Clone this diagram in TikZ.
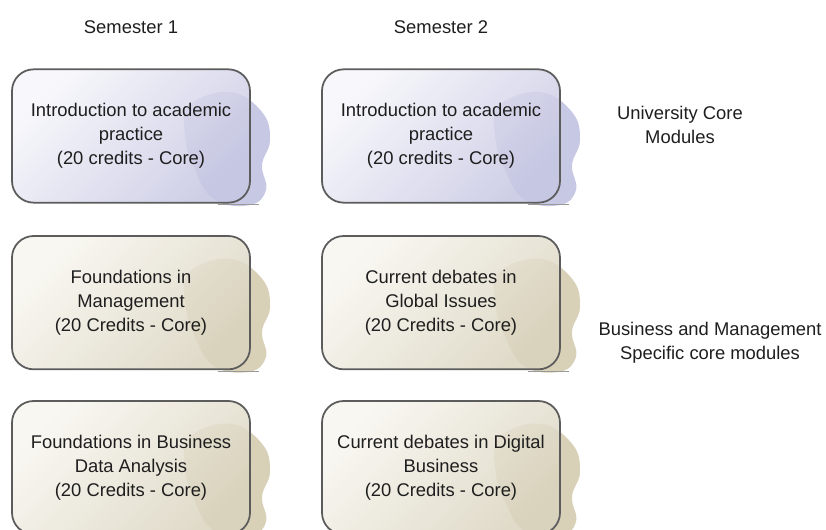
\documentclass[tikz,border=0pt]{standalone}
\usepackage{fontspec}
\setmainfont{Liberation Sans}
\usetikzlibrary{calc,backgrounds}

\definecolor{txt}{HTML}{1E1E1E}
\definecolor{rim}{HTML}{5C5C5C}
\definecolor{unilight}{HTML}{F6F6FB}
\definecolor{unidark}{HTML}{C6C7E2}
\definecolor{unicloud}{HTML}{C7C8E3}
\definecolor{buslight}{HTML}{F8F6F0}
\definecolor{busdark}{HTML}{DAD4BF}
\definecolor{buscloud}{HTML}{D8D1B8}

\tikzset{
  module/.style={draw=rim,rectangle,minimum height=40mm,minimum width=71.4mm,
    rounded corners=6.5mm,line width=1.5pt,align=center,text=txt,
    font=\fontsize{15.7}{20.4}\selectfont,fill opacity=0.85,text opacity=1},
  unibox/.style={module,top color=unilight,bottom color=unidark,shading angle=45},
  busbox/.style={module,top color=buslight,bottom color=busdark,shading angle=45},
  caption/.style={align=center,text=txt,font=\fontsize{15.7}{20.4}\selectfont}
}

% soft blob behind the right edge of a module box
\newcommand{\cloudblob}[2]{%
  \begin{scope}[shift={(#1.center)}]
    \fill[#2] plot[smooth cycle,tension=0.7] coordinates {(17.7mm,9.3mm) (29.7mm,13.2mm)
      (39.3mm,7.2mm) (41.7mm,-1.2mm) (39.3mm,-8.7mm) (40.5mm,-16.2mm) (35.7mm,-20.7mm)
      (25.2mm,-19.2mm) (19.2mm,-10.2mm) (16.2mm,0.3mm)};
    \draw[black!40,line width=1pt] (26mm,-20.6mm) -- (38.5mm,-20.6mm);
  \end{scope}}

\begin{document}
\begin{tikzpicture}
\useasboundingbox (0,0) rectangle (247.8mm,-159mm);

\node [unibox](intro1) at (39.3mm,-40.8mm){Introduction to academic\\practice\\(20 credits - Core)};
\node [unibox](intro2) at ($ (intro1)+(93mm,0mm) $){Introduction to academic\\practice\\(20 credits - Core)};

\node [busbox](mgmt) at ($ (intro1)+(0mm,-50mm) $){Foundations in\\Management\\(20 Credits - Core)};
\node [busbox](global) at ($ (intro2)+(0mm,-50mm) $){Current debates in\\Global Issues\\(20 Credits - Core)};

\node [busbox](data) at ($ (mgmt)+(0mm,-49.5mm) $){Foundations in Business\\Data Analysis\\(20 Credits - Core)};
\node [busbox](digital) at ($ (global)+(0mm,-49.5mm) $){Current debates in Digital\\Business\\(20 Credits - Core)};

\begin{scope}[on background layer]
\cloudblob{intro1}{unicloud}
\cloudblob{intro2}{unicloud}
\cloudblob{mgmt}{buscloud}
\cloudblob{global}{buscloud}
\cloudblob{data}{buscloud}
\cloudblob{digital}{buscloud}
\end{scope}

\node [caption](sem1) at ($ (intro1)+(0mm,32.7mm) $){Semester 1};
\node [caption](sem2) at ($ (intro2)+(0mm,32.7mm) $){Semester 2};

\node [caption](unilbl) at ($ (intro2)+(71.7mm,3.3mm) $){University Core\\Modules};
\node [caption](buslbl) at ($ (global)+(80.7mm,-12mm) $){Business and Management\\Specific core modules};

\end{tikzpicture}
\end{document}
